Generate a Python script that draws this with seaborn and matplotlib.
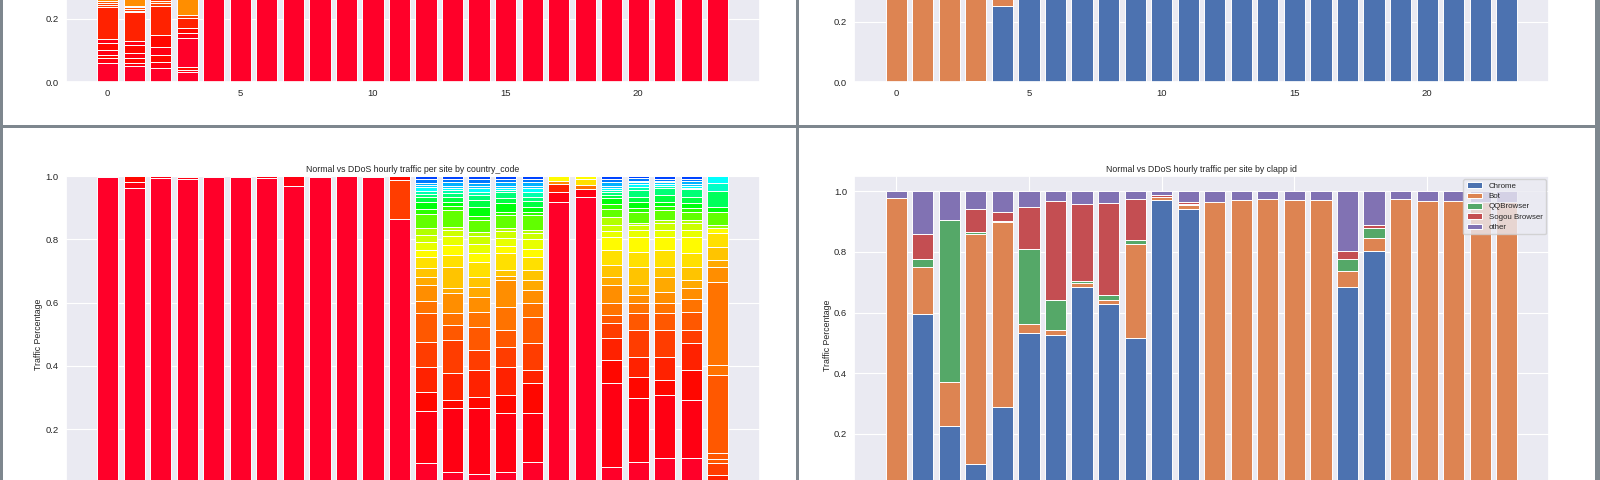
import numpy as np
import matplotlib
matplotlib.use("Agg")
import matplotlib.pyplot as plt
from matplotlib.patches import Rectangle
import seaborn as sns

# ---------------------------------------------------------------- data
hours = list(range(24))
clapp_labels = ["Chrome", "Bot", "QQBrowser", "Sogou Browser", "other"]

# upper panel (first day): clapp id share per hour
chrome_day1 = [0.0, 0.0, 0.0, 0.005, 0.251, 0.95, 0.95, 0.95, 0.95, 0.95, 0.95, 0.95,
               0.95, 0.95, 0.95, 0.95, 0.95, 0.95, 0.95, 0.95, 0.95, 0.95, 0.95, 0.95]
bot_day1 = [0.97, 0.97, 0.97, 0.965, 0.706, 0.0, 0.0, 0.0, 0.0, 0.0, 0.0, 0.0,
            0.0, 0.0, 0.0, 0.0, 0.0, 0.0, 0.0, 0.0, 0.0, 0.0, 0.0, 0.0]
qq_day1 = [0.0] * 24
sogou_day1 = [0.0] * 24
other_day1 = [0.03, 0.03, 0.03, 0.03, 0.043, 0.05, 0.05, 0.05, 0.05, 0.05, 0.05, 0.05,
              0.05, 0.05, 0.05, 0.05, 0.05, 0.05, 0.05, 0.05, 0.05, 0.05, 0.05, 0.05]

# lower panel (second day): clapp id share per hour
chrome_day2 = [0.0, 0.596, 0.226, 0.099, 0.290, 0.532, 0.526, 0.684, 0.629, 0.515, 0.972, 0.942,
               0.0, 0.0, 0.0, 0.0, 0.0, 0.685, 0.804, 0.0, 0.0, 0.0, 0.0, 0.0]
bot_day2 = [0.979, 0.153, 0.144, 0.760, 0.607, 0.031, 0.015, 0.014, 0.013, 0.311, 0.008, 0.013,
            0.964, 0.971, 0.974, 0.971, 0.971, 0.053, 0.042, 0.975, 0.966, 0.966, 0.963, 0.963]
qq_day2 = [0.0, 0.028, 0.535, 0.008, 0.006, 0.247, 0.099, 0.007, 0.017, 0.014, 0.002, 0.002,
           0.0, 0.0, 0.0, 0.0, 0.0, 0.039, 0.034, 0.0, 0.0, 0.0, 0.0, 0.0]
sogou_day2 = [0.0, 0.082, 0.0, 0.074, 0.028, 0.137, 0.327, 0.253, 0.303, 0.133, 0.006, 0.007,
              0.0, 0.0, 0.0, 0.0, 0.0, 0.027, 0.008, 0.0, 0.0, 0.0, 0.0, 0.0]
other_day2 = [0.021, 0.141, 0.095, 0.059, 0.069, 0.053, 0.033, 0.042, 0.038, 0.027, 0.012, 0.036,
              0.036, 0.029, 0.026, 0.029, 0.029, 0.196, 0.113, 0.025, 0.034, 0.034, 0.037, 0.037]

# country_code stacks: (country rank, cumulative top of its segment)
country_day1 = [
    [(0, 0.06), (1, 0.076), (2, 0.087), (1, 0.103), (2, 0.124), (1, 0.136), (3, 0.238),
     (4, 0.244), (4, 0.25), (5, 0.256), (7, 0.55), (10, 0.75), (17, 0.9), (25, 0.97), (33, 1.0)],
    [(0, 0.05), (1, 0.06), (2, 0.076), (1, 0.092), (2, 0.119), (1, 0.13), (3, 0.221),
     (2, 0.226), (4, 0.232), (5, 0.238), (6, 0.242), (7, 0.6), (10, 0.8), (17, 0.92), (25, 0.97), (33, 1.0)],
    [(0, 0.044), (1, 0.065), (2, 0.087), (1, 0.113), (2, 0.15), (3, 0.24), (4, 0.25),
     (5, 0.256), (4, 0.262), (7, 0.55), (10, 0.75), (17, 0.9), (25, 0.97), (33, 1.0)],
    [(0, 0.031), (1, 0.04), (2, 0.047), (0, 0.14), (1, 0.155), (2, 0.171), (3, 0.203),
     (4, 0.213), (7, 0.6), (10, 0.8), (17, 0.92), (25, 0.97), (33, 1.0)],
    [(0, 1.0)], [(0, 1.0)], [(0, 1.0)], [(0, 1.0)], [(0, 1.0)], [(0, 1.0)],
    [(0, 1.0)], [(0, 1.0)], [(0, 1.0)], [(0, 1.0)], [(0, 1.0)], [(0, 1.0)],
    [(0, 1.0)], [(0, 1.0)], [(0, 1.0)], [(0, 1.0)], [(0, 1.0)], [(0, 1.0)],
    [(0, 1.0)], [(0, 1.0)],
]

band_ranks = [0, 1, 2, 3, 4, 5, 6, 7, 8, 9, 10, 11, 12, 13, 14, 17, 19, 21, 23, 25, 27, 30, 32, 33, 35, 37]
cum_h12 = [0.094, 0.259, 0.319, 0.398, 0.474, 0.566, 0.606, 0.656, 0.682, 0.708, 0.743, 0.766, 0.79,
           0.815, 0.835, 0.88, 0.895, 0.917, 0.933, 0.944, 0.954, 0.964, 0.97, 0.979, 0.99, 1.0]
cum_h13 = [0.066, 0.266, 0.292, 0.376, 0.482, 0.53, 0.566, 0.629, 0.645, 0.714, 0.75, 0.782, 0.81,
           0.83, 0.84, 0.893, 0.905, 0.917, 0.935, 0.945, 0.955, 0.962, 0.968, 0.982, 0.99, 1.0]
cum_h14 = [0.06, 0.266, 0.303, 0.387, 0.45, 0.524, 0.57, 0.619, 0.65, 0.682, 0.729, 0.756, 0.785,
           0.81, 0.824, 0.861, 0.875, 0.903, 0.925, 0.94, 0.95, 0.961, 0.968, 0.979, 0.99, 1.0]
cum_h15 = [0.066, 0.25, 0.308, 0.398, 0.46, 0.513, 0.587, 0.671, 0.685, 0.703, 0.756, 0.78, 0.805,
           0.825, 0.835, 0.877, 0.887, 0.914, 0.93, 0.95, 0.955, 0.961, 0.968, 0.982, 0.99, 1.0]
cum_h16 = [0.097, 0.25, 0.345, 0.387, 0.471, 0.556, 0.6, 0.64, 0.67, 0.703, 0.745, 0.77, 0.8,
           0.82, 0.829, 0.877, 0.887, 0.903, 0.92, 0.935, 0.948, 0.961, 0.968, 0.98, 0.99, 1.0]
cum_h19 = [0.082, 0.345, 0.419, 0.487, 0.534, 0.56, 0.598, 0.656, 0.682, 0.719, 0.766, 0.808, 0.825,
           0.845, 0.871, 0.897, 0.91, 0.929, 0.94, 0.95, 0.955, 0.961, 0.968, 0.982, 0.99, 1.0]
cum_h20 = [0.097, 0.298, 0.366, 0.429, 0.513, 0.566, 0.6, 0.624, 0.656, 0.714, 0.761, 0.808, 0.83,
           0.845, 0.85, 0.887, 0.9, 0.919, 0.935, 0.956, 0.965, 0.975, 0.98, 0.984, 0.993, 1.0]
cum_h21 = [0.108, 0.308, 0.355, 0.429, 0.513, 0.566, 0.6, 0.635, 0.682, 0.714, 0.766, 0.808, 0.83,
           0.85, 0.861, 0.893, 0.905, 0.919, 0.94, 0.961, 0.967, 0.975, 0.98, 0.984, 0.99, 1.0]
cum_h22 = [0.108, 0.292, 0.387, 0.471, 0.513, 0.571, 0.61, 0.645, 0.671, 0.714, 0.756, 0.808, 0.83,
           0.85, 0.861, 0.887, 0.9, 0.914, 0.935, 0.958, 0.962, 0.968, 0.975, 0.984, 0.99, 1.0]

country_day2 = [
    [(0, 0.997), (1, 1.0)],
    [(0, 0.961), (1, 0.98), (2, 1.0)],
    [(0, 0.993), (1, 1.0)],
    [(0, 0.99), (1, 0.997), (2, 1.0)],
    [(0, 0.997), (1, 1.0)],
    [(0, 0.997), (1, 1.0)],
    [(0, 0.995), (1, 1.0)],
    [(0, 0.968), (1, 1.0)],
    [(0, 0.997), (1, 1.0)],
    [(0, 0.999), (1, 1.0)],
    [(0, 0.997), (1, 1.0)],
    [(0, 0.863), (4, 0.988), (2, 1.0)],
    list(zip(band_ranks, cum_h12)),
    list(zip(band_ranks, cum_h13)),
    list(zip(band_ranks, cum_h14)),
    list(zip(band_ranks, cum_h15)),
    list(zip(band_ranks, cum_h16)),
    [(0, 0.919), (1, 0.95), (3, 0.974), (7, 0.985), (11, 1.0)],
    [(0, 0.935), (1, 0.96), (6, 0.972), (10, 0.99), (11, 1.0)],
    list(zip(band_ranks, cum_h19)),
    list(zip(band_ranks, cum_h20)),
    list(zip(band_ranks, cum_h21)),
    list(zip(band_ranks, cum_h22)),
    [(0, 0.02), (2, 0.04), (3, 0.055), (4, 0.092), (5, 0.105), (5, 0.124), (5, 0.371), (6, 0.403),
     (6, 0.666), (7, 0.714), (8, 0.735), (9, 0.775), (10, 0.819), (11, 0.835), (15, 0.845),
     (17, 0.887), (21, 0.903), (24, 0.954), (28, 0.979), (30, 1.0)],
]

title_country = "Normal vs DDoS hourly traffic per site by country_code"
title_clapp = "Normal vs DDoS hourly traffic per site by clapp id"
ylabel = "Traffic Percentage"

# ---------------------------------------------------------------- style
sns.set_theme(style="darkgrid")
plt.rcParams["font.family"] = ["Liberation Sans", "DejaVu Sans"]
plt.rcParams["grid.linewidth"] = 0.8

W, H = 1600, 480
fig = plt.figure(figsize=(16, 4.8), dpi=100, facecolor="#7e878e")


def px_rect(left, top, right, bottom):
    return [left / W, 1 - bottom / H, (right - left) / W, (bottom - top) / H]


for l, t, r, b in [(3, -5, 796, 125), (799, -5, 1595, 125), (3, 128, 796, 485), (799, 128, 1595, 485)]:
    x0, y0, w, h = px_rect(l, t, r, b)
    fig.patches.append(Rectangle((x0, y0), w, h, transform=fig.transFigure,
                                 facecolor="white", edgecolor="none", zorder=-10))

ax_tl = fig.add_axes(px_rect(65.5, -234.2, 760, 82.3))
ax_tr = fig.add_axes(px_rect(854, -236.2, 1549, 82.3))
ax_bl = fig.add_axes(px_rect(65.5, 176, 760, 492.5))
ax_br = fig.add_axes(px_rect(854, 176, 1549, 494.5))

cmap = plt.get_cmap("gist_rainbow")
palette = sns.color_palette("deep", 5)


def rank_color(rank):
    return cmap(rank / 39 * 0.76)


def draw_country(ax, stacks):
    for h, segs in zip(hours, stacks):
        bottom = 0.0
        for rank, top in segs:
            ax.bar(h, top - bottom, bottom=bottom, width=0.8, color=rank_color(rank),
                   edgecolor="white", linewidth=0.7)
            bottom = top
    ax.set_ylim(0, 1.0)


def draw_clapp(ax, series, legend=False):
    bottom = np.zeros(len(hours))
    for name, vals, col in zip(clapp_labels, series, palette):
        vals = np.asarray(vals)
        ax.bar(hours, vals, bottom=bottom, width=0.8, color=col,
               edgecolor="white", linewidth=0.7, label=name)
        bottom = bottom + vals
    ax.set_ylim(0, 1.05)
    if legend:
        ax.legend(loc="upper right", fontsize=5.7, labelspacing=0.35,
                  borderaxespad=0.4, handlelength=2.0)


draw_country(ax_tl, country_day1)
draw_country(ax_bl, country_day2)
draw_clapp(ax_tr, [chrome_day1, bot_day1, qq_day1, sogou_day1, other_day1])
draw_clapp(ax_br, [chrome_day2, bot_day2, qq_day2, sogou_day2, other_day2], legend=True)

for ax, title in [(ax_tl, title_country), (ax_bl, title_country),
                  (ax_tr, title_clapp), (ax_br, title_clapp)]:
    ax.set_title(title, fontsize=6.3, pad=3, color="#262626")
    ax.set_ylabel(ylabel, fontsize=6.3, labelpad=1.5, color="#262626")
    ax.tick_params(axis="both", labelsize=6.8, pad=5, length=0, colors="#262626")

fig.savefig("out.png", dpi=100, facecolor=fig.get_facecolor())
